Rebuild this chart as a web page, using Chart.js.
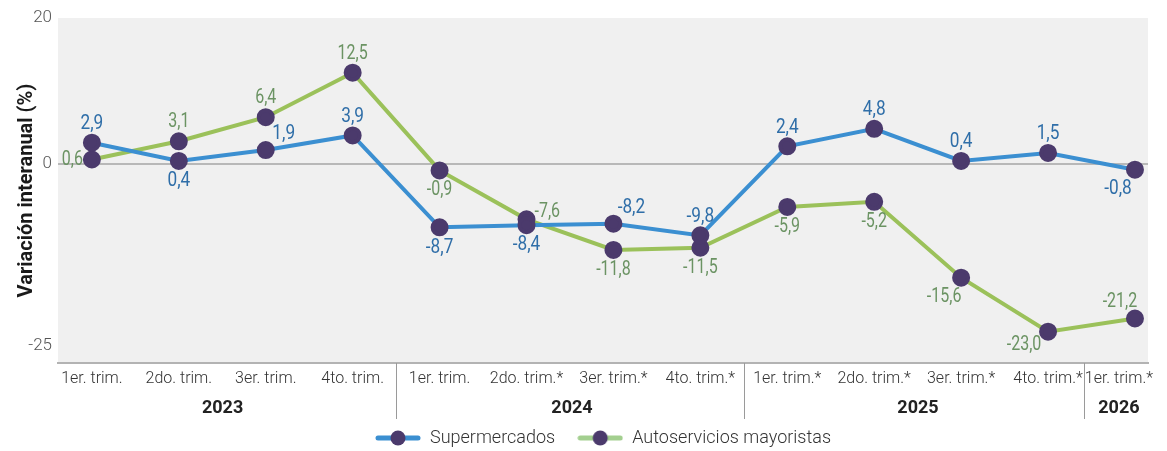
<!DOCTYPE html>
<html><head><meta charset="utf-8">
<script src="https://cdn.jsdelivr.net/npm/chart.js@4"></script>
<style>html,body{margin:0;padding:0;background:#fff}#wrap{width:1167px;height:451px}</style>
</head><body><div id="wrap"><canvas id="c" width="1167" height="451"></canvas></div>
<script>
// ---- data ----
const quarters = ['1er. trim.','2do. trim.','3er. trim.','4to. trim.','1er. trim.','2do. trim.*','3er. trim.*','4to. trim.*','1er. trim.*','2do. trim.*','3er. trim.*','4to. trim.*','1er. trim.*'];
const years = ['2023','2024','2025','2026'];
const yearFirst = [0,4,8,12];
const yearLast = [3,7,11,12];
const supermercados = [2.9,0.4,1.9,3.9,-8.7,-8.4,-8.2,-9.8,2.4,4.8,0.4,1.5,-0.8];
const autoservicios = [0.6,3.1,6.4,12.5,-0.9,-7.6,-11.8,-11.5,-5.9,-5.2,-15.6,-23.0,-21.2];
const yTicks = [20,0,-25];
const seriesNames = ['Supermercados','Autoservicios mayoristas'];

// ---- label placement (style) ----
const supPlace  = ['a','b','ar','a','b','b','ar','a','a','a','a','a','bl'];
const autoPlace = ['l','a','a','a','b','r','b','b','b','b','bl','bl2','al'];
const offsets = {a:[0,-19,'center'], b:[0,20,'center'], ar:[18,-16,'center'], bl:[-17,19,'center'],
  bl2:[-24,13,'center'], al:[-15,-17,'center'], l:[-9,0,'right'], r:[8,-7,'left']};

const MARKER = '#4b3a6c';
const BLUE = '#3b8fd1', GREEN = '#9bc15a';

function icon(color){
  const c=document.createElement('canvas');c.width=46;c.height=16;
  const g=c.getContext('2d');
  g.strokeStyle=color;g.lineWidth=5;g.lineCap='round';
  g.beginPath();g.moveTo(3,8);g.lineTo(43,8);g.stroke();
  g.fillStyle=MARKER;g.beginPath();g.arc(23,8,7.5,0,Math.PI*2);g.fill();
  return c;
}
const icons=[icon(BLUE),icon('#a3cf8f')];

const toXY = arr => arr.map((v,i)=>({x:i,y:v}));
const fmt = v => v.toFixed(1).replace('.',',');

const bgPlugin = {
  id:'bg',
  beforeDraw(chart){
    const {ctx, chartArea:a}=chart;
    ctx.save();ctx.fillStyle='#f0f0f0';ctx.fillRect(a.left,a.top,a.right-a.left,a.bottom-a.top);ctx.restore();
  }
};

const xLabelsPlugin = {
  id:'xlabels',
  afterDraw(chart){
    const {ctx, chartArea:a}=chart;
    const ax=chart.scales.x;
    const W=chart.width;
    ctx.save();
    ctx.font='300 16px Roboto';
    ctx.fillStyle='#333';
    ctx.textAlign='center';ctx.textBaseline='middle';
    const pos=quarters.map((q,i)=>{
      let x=ax.getPixelForValue(i);
      const w=ctx.measureText(q).width;
      if(x+w/2>W-14) x=W-14-w/2;
      return {x,w};
    });
    quarters.forEach((q,i)=>ctx.fillText(q,pos[i].x,a.bottom+16));
    ctx.font='bold 18px Roboto';
    ctx.fillStyle='#222';
    years.forEach((y,g)=>{
      const l=pos[yearFirst[g]].x-pos[yearFirst[g]].w/2;
      const r=pos[yearLast[g]].x+pos[yearLast[g]].w/2;
      ctx.fillText(y,(l+r)/2,a.bottom+45);
      if(g>0){
        const p=pos[yearFirst[g]-1], n=pos[yearFirst[g]];
        const sx=Math.round(((p.x+p.w/2)+(n.x-n.w/2))/2)+0.5;
        ctx.strokeStyle='#9a9a9a';ctx.lineWidth=1;
        ctx.beginPath();ctx.moveTo(sx,a.bottom);ctx.lineTo(sx,a.bottom+56);ctx.stroke();
      }
    });
    ctx.restore();
  }
};

const dataLabelsPlugin = {
  id:'dlabels',
  afterDatasetsDraw(chart){
    const ctx=chart.ctx;
    const cfg=[
      {vals:supermercados, place:supPlace, color:'#2f6ea8', size:21, sx:0.82},
      {vals:autoservicios, place:autoPlace, color:'#6b9363', size:20, sx:0.8}
    ];
    cfg.forEach((c,di)=>{
      const meta=chart.getDatasetMeta(di);
      meta.data.forEach((pt,i)=>{
        const o=offsets[c.place[i]];
        ctx.save();
        ctx.font=c.size+"px Roboto";
        ctx.fillStyle=c.color;
        ctx.textBaseline='middle';
        ctx.textAlign=o[2];
        ctx.translate(pt.x+o[0],pt.y+o[1]);
        ctx.scale(c.sx,1);
        ctx.fillText(fmt(c.vals[i]),0,0);
        ctx.restore();
      });
    });
  }
};

new Chart(document.getElementById('c'),{
  type:'line',
  data:{datasets:[
    {label:seriesNames[0],data:toXY(supermercados),borderColor:BLUE,borderWidth:4,pointBackgroundColor:MARKER,pointBorderColor:MARKER,pointRadius:7,pointHoverRadius:7,tension:0},
    {label:seriesNames[1],data:toXY(autoservicios),borderColor:GREEN,borderWidth:4,pointBackgroundColor:MARKER,pointBorderColor:MARKER,pointRadius:7,pointHoverRadius:7,tension:0}
  ]},
  options:{
    responsive:false,animation:false,
    layout:{padding:{left:0,right:19,top:18,bottom:-6}},
    scales:{
      x:{type:'linear',min:-0.39,max:12.15,
        grid:{display:false},border:{display:true,color:'#b3b3b3',width:2},
        ticks:{display:false},
        afterBuildTicks:s=>{s.ticks=quarters.map((_,i)=>({value:i}));},
        afterFit:s=>{s.height=44;}},
      y:{min:-27.3,max:20,
        afterBuildTicks:s=>{s.ticks=yTicks.map(v=>({value:v}));},
        afterFit:s=>{s.width=58;},
        grid:{color:c=>(c.tick&&c.tick.value===0)?'#b8b8b8':'rgba(0,0,0,0)',lineWidth:2,drawTicks:false},
        border:{display:false},
        ticks:{padding:6,color:'#555',font:{family:'Roboto',size:17,weight:300},callback:v=>String(v)},
        title:{display:true,text:'Variación interanual (%)',color:'#1a1a1a',font:{family:'Roboto',size:20,weight:'bold'},padding:{top:15,bottom:0}}}
    },
    plugins:{
      legend:{position:'bottom',fullSize:false,
        labels:{usePointStyle:true,pointStyleWidth:46,padding:22,color:'#333',font:{family:'Roboto',size:18,weight:300},
          generateLabels:chart=>chart.data.datasets.map((d,i)=>({text:d.label,pointStyle:icons[i],fontColor:'#333',hidden:false,datasetIndex:i,lineWidth:0}))}},
      tooltip:{enabled:false}
    }
  },
  plugins:[bgPlugin,xLabelsPlugin,dataLabelsPlugin]
});
</script></body></html>
